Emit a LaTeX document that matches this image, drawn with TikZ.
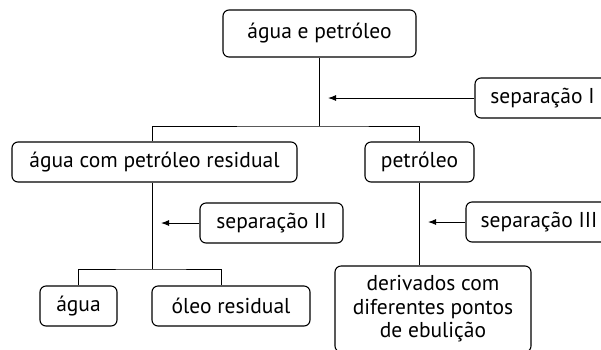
\documentclass[tikz,border=0pt]{standalone}
\usepackage{fontspec}
\setmainfont{PT Sans}
\usetikzlibrary{arrows.meta,calc}
\begin{document}
\begin{tikzpicture}[x=1pt,y=-1pt,
	caixa/.style={draw,line width=1.1pt,rounded corners=6pt,minimum height=40pt,inner sep=0pt,
		font=\fontsize{21.5}{23.5}\selectfont,align=center},
	liga/.style={line width=1pt},
	seta/.style={line width=1pt,-{Latex[length=8pt,width=6pt]}}]
	\useasboundingbox (0,0) rectangle (601,349);
	\clip (0,0) rectangle (601,349);
	\node[caixa,minimum width=193pt,minimum height=47pt] (topo) at (319.5,33.5) {água e petróleo};
	\node[caixa,minimum width=135pt] (sepI) at (542.5,98) {separação I};
	\node[caixa,minimum width=285pt] (residual) at (154.5,162) {água com petróleo residual};
	\node[caixa,minimum width=109pt] (petroleo) at (419.5,162) {petróleo};
	\node[caixa,minimum width=143pt] (sepII) at (271.5,223) {separação II};
	\node[caixa,minimum width=146pt] (sepIII) at (539,222) {separação III};
	\node[caixa,minimum width=77pt] (agua) at (78.5,306) {água};
	\node[caixa,minimum width=158pt] (oleo) at (231,306) {óleo residual};
	\node[caixa,minimum width=196pt,minimum height=86pt] (derivados) at (433,309) {derivados com\\diferentes pontos\\de ebulição};
	\coordinate (j1) at (319.5,126);
	\coordinate (j2) at (152,269);
	\coordinate (alvoI) at (328,98);
	\coordinate (alvoII) at (161,223);
	\coordinate (alvoIII) at (428,222);
	\draw[liga] (topo) -- (j1);
	\draw[liga] (residual.north -| j2) |- (j1) -| (petroleo.north);
	\draw[seta] (sepI) -- (alvoI);
	\draw[liga] (residual.south -| j2) -- (j2);
	\draw[liga] (agua.north) |- (j2) -| ([xshift=-10pt]oleo.north);
	\draw[seta] (sepII) -- (alvoII);
	\draw[liga] (petroleo.south) -- (petroleo.south |- derivados.north);
	\draw[seta] (sepIII) -- (alvoIII);
\end{tikzpicture}
\end{document}
